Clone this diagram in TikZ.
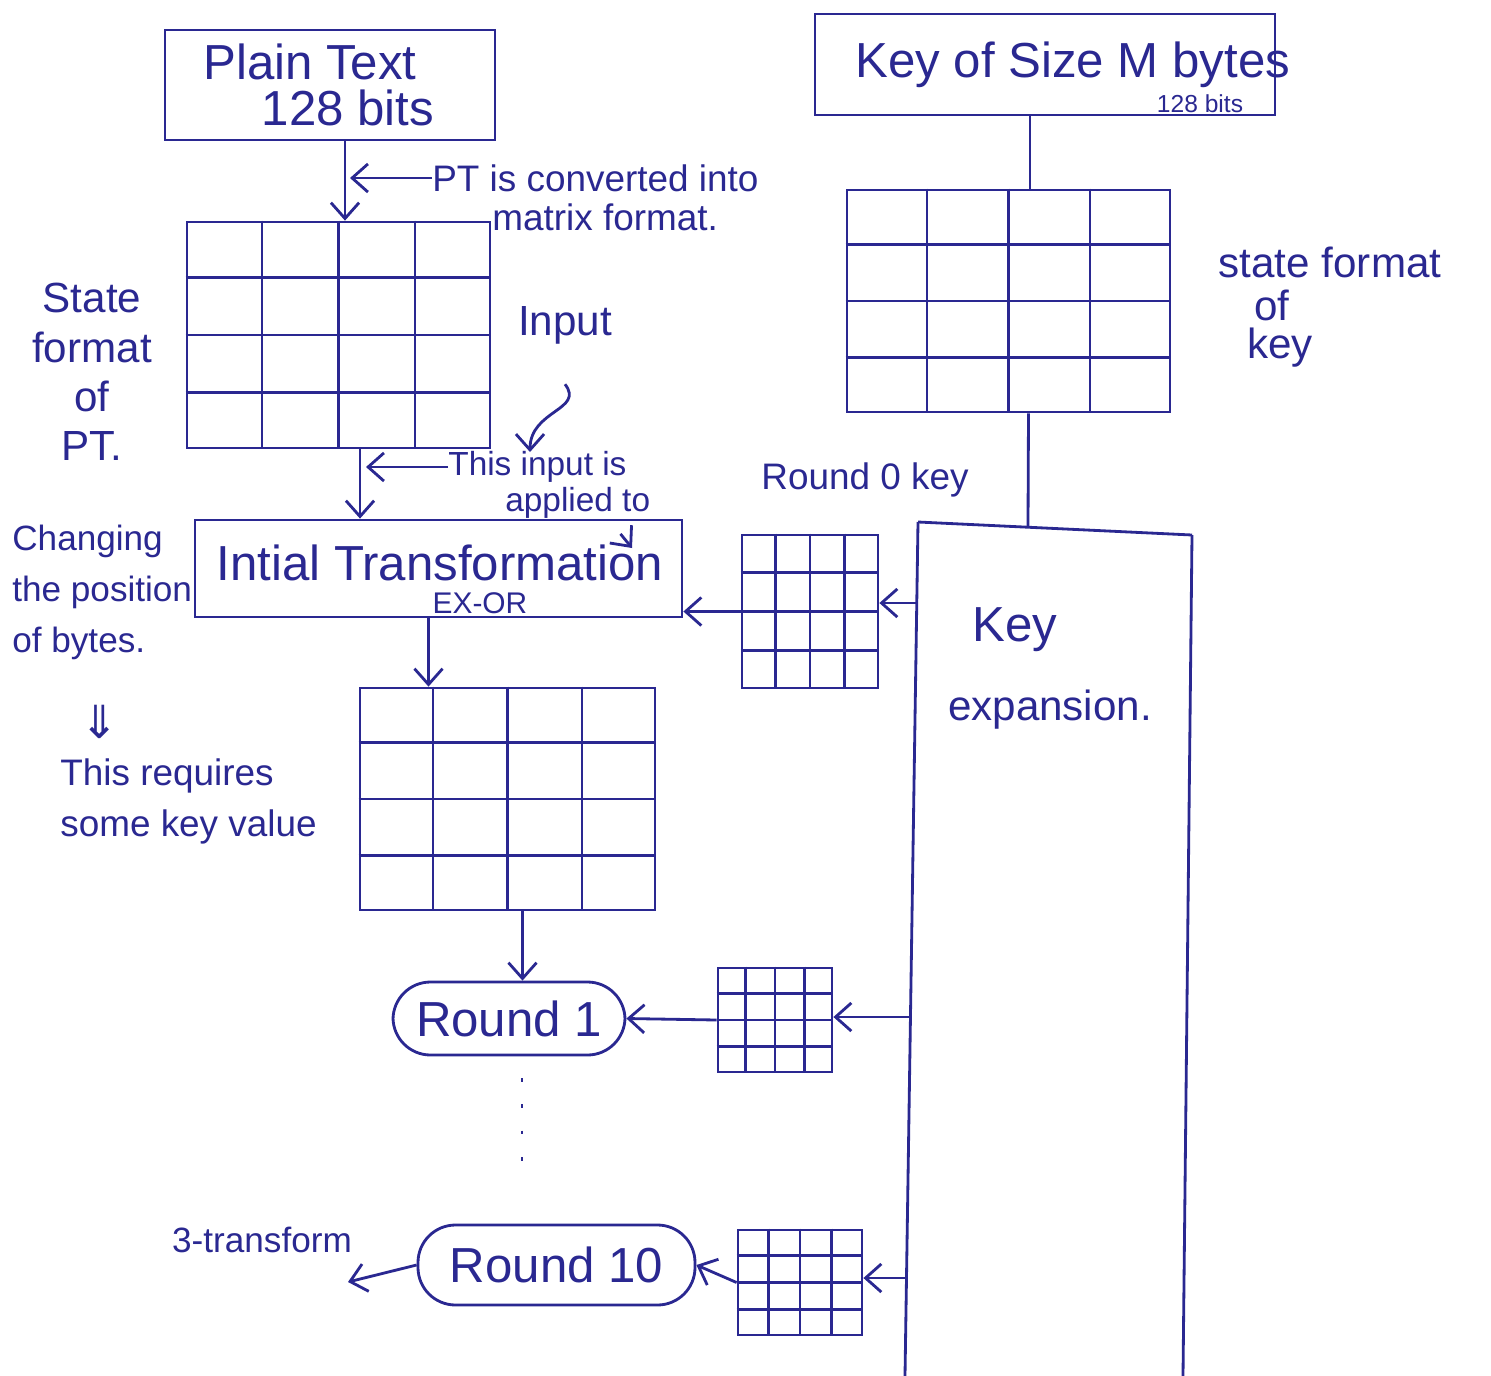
\documentclass[tikz,border=0pt]{standalone}
\usepackage{fontspec}
\setmainfont{Liberation Sans}
\newfontfamily\symfont{DejaVu Sans}
\usetikzlibrary{arrows.meta,fit,calc}
\definecolor{ink}{RGB}{42,40,145}
\newcommand\drawgridlines[1]{%
  \foreach \f in {0.25,0.5,0.75}{%
    \draw[gridline] ($(#1.north west)!\f!(#1.north east)$) -- ($(#1.south west)!\f!(#1.south east)$);
    \draw[gridline] ($(#1.north west)!\f!(#1.south west)$) -- ($(#1.north east)!\f!(#1.south east)$);
  }}
\tikzset{
  pen/.style={line width=1.6pt, draw=ink},
  gridline/.style={pen},
  box/.style={pen, rectangle, inner sep=0pt},
  gridbox/.style={pen, rectangle, inner sep=0pt},
  roundbox/.style={pen, rectangle, rounded corners=0.75cm, inner sep=0pt},
  arr/.style={pen, -{Straight Barb[length=9pt,width=16pt,line width=1.6pt]}},
  big/.style={text=ink, font=\fontsize{28}{34}\selectfont, inner sep=0pt},
  mid/.style={text=ink, font=\fontsize{24}{28}\selectfont, inner sep=0pt},
  note/.style={text=ink, font=\fontsize{21}{28}\selectfont, inner sep=0pt},
  tiny/.style={text=ink, font=\fontsize{14}{16}\selectfont, inner sep=0pt},
}
\begin{document}
\begin{tikzpicture}[x=0.02cm, y=-0.02cm]
\useasboundingbox[fill=white] (0,0) rectangle (1491,1376);

% ---------------- left column ----------------
\node[box, fit={(165,30) (495,140)}] (pt) {};
\node[big] (ptt1) at (310,62) {Plain Text};
\node[big] (ptt2) at (348,108) {128 bits};

\node[gridbox, fit={(187,222) (490,448)}] (ptg) {};
\drawgridlines{ptg}
\draw[arr] ([xshift=0.3cm]pt.south) -- ([xshift=0.3cm]pt.south |- ptg.north);

\node[note, anchor=west] (conv1) at (432,178) {PT is converted into};
\node[note, anchor=west] (conv2) at (492,217) {matrix format.};
\coordinate (conva) at (350,178);
\draw[arr] (conv1.west) -- (conva);

\node[mid, align=center] (statept) at (92,372) {State\\format\\of\\PT.};

\node[mid] (inp) at (565,325) {Input};
\coordinate (inpa) at (530,452);
\draw[arr] ([yshift=-0.8cm]inp.south) .. controls (585,410) and (530,410) .. (inpa);

\node[box, fit={(195,520) (682,617)}] (init) {};
\node[big] (initt) at (440,563) {Intial Transformation};
\node[tiny, font=\fontsize{17}{20}\selectfont] (exor) at (480,603) {EX-OR};
\draw[arr] ([xshift=0.43cm]ptg.south) -- ([xshift=0.43cm]ptg.south |- init.north);

\node[note, anchor=west, font=\fontsize{19}{24}\selectfont] (appl1) at (448,467) {This input is};
\node[note, anchor=west, font=\fontsize{19}{24}\selectfont] (appl2) at (505,503) {applied to};
\coordinate (appla) at (366,467);
\draw[arr] (appl1.west) -- (appla);
\coordinate (applb) at (632,548);
\draw[arr] ([xshift=-0.6cm,yshift=-0.3cm]appl2.south east) -- (applb);

\node[note, align=left, anchor=north west, font=\fontsize{20}{29}\selectfont] (chg) at (12,525) {Changing\\the position\\of bytes.};
\node[text=ink, font=\symfont\fontsize{26}{30}\selectfont, inner sep=0pt] (dbl) at (100,722) {⇓};
\node[note, align=left, anchor=north west, font=\fontsize{21}{29}\selectfont] (req) at (60,758) {This requires\\some key value};

\node[gridbox, fit={(360,688) (655,910)}] (g2) {};
\drawgridlines{g2}
\draw[arr] ([xshift=-0.2cm]init.south) -- ([xshift=-0.2cm]init.south |- g2.north);

\node[roundbox, fit={(393,982) (625,1055)}] (r1) {};
\node[big] (r1t) at (r1.center) {Round 1};
\draw[arr] ([xshift=0.3cm]g2.south) -- ([xshift=0.3cm]g2.south |- r1.north);

\node[roundbox, fit={(418,1225) (695,1305)}] (r10) {};
\node[big] (r10t) at (r10.center) {Round 10};
\draw[pen, dash pattern=on 2pt off 13pt] (522,1078) -- (522,1172);

\node[note, font=\fontsize{20}{24}\selectfont] (st) at (262,1240) {3-transform};
\coordinate (sta) at (348,1282);
\draw[arr] (r10.west) -- (sta);

% ---------------- right column ----------------
\node[box, fit={(815,14) (1275,115)}] (key) {};
\node[big, anchor=west] (keyt) at (855,65) {Key of Size M bytes};
\node[tiny] (keyb) at (1200,104) {128 bits};

\node[gridbox, fit={(847,190) (1170,412)}] (kg) {};
\drawgridlines{kg}
\draw[pen] ([xshift=-0.3cm]key.south) -- ([xshift=-0.3cm]key.south |- kg.north);

\node[mid] (sfk) at (1330,262) {state format};
\node[mid] (sfk2) at (1272,305) {of};
\node[mid] (sfk3) at (1280,348) {key};

\coordinate (ketl) at (918,522);
\coordinate (ketr) at (1192,535);
\coordinate (kebl) at (905,1376);
\coordinate (kebr) at (1183,1376);
\coordinate (ketop) at (1028,526);
\draw[pen] (ketl) -- (ketr);
\draw[pen] (ketl) -- (kebl);
\draw[pen] (ketr) -- (kebr);
\draw[pen] ([xshift=0.4cm]kg.south) -- (ketop);
\node[big] (kexp1) at (1015,630) {Key};
\node[mid] (kexp2) at (1050,710) {expansion.};

\node[note] (r0k) at (865,480) {Round 0 key};

\node[gridbox, fit={(742,535) (878,688)}] (k0) {};
\drawgridlines{k0}
\coordinate (ke0) at (916,603);
\draw[arr] (ke0) -- (k0.east |- ke0);
\draw[arr] (k0.west) -- (init.east |- k0.west);

\node[gridbox, fit={(718,968) (832,1072)}] (k1) {};
\drawgridlines{k1}
\coordinate (ke1) at (910,1017);
\draw[arr] (ke1) -- (k1.east |- ke1);
\draw[arr] (k1.west) -- (r1.east);

\node[gridbox, fit={(738,1230) (862,1335)}] (k10) {};
\drawgridlines{k10}
\coordinate (ke10) at (907,1278);
\draw[arr] (ke10) -- (k10.east |- ke10);
\draw[arr] (k10.west) -- (r10.east);
\end{tikzpicture}
\end{document}
